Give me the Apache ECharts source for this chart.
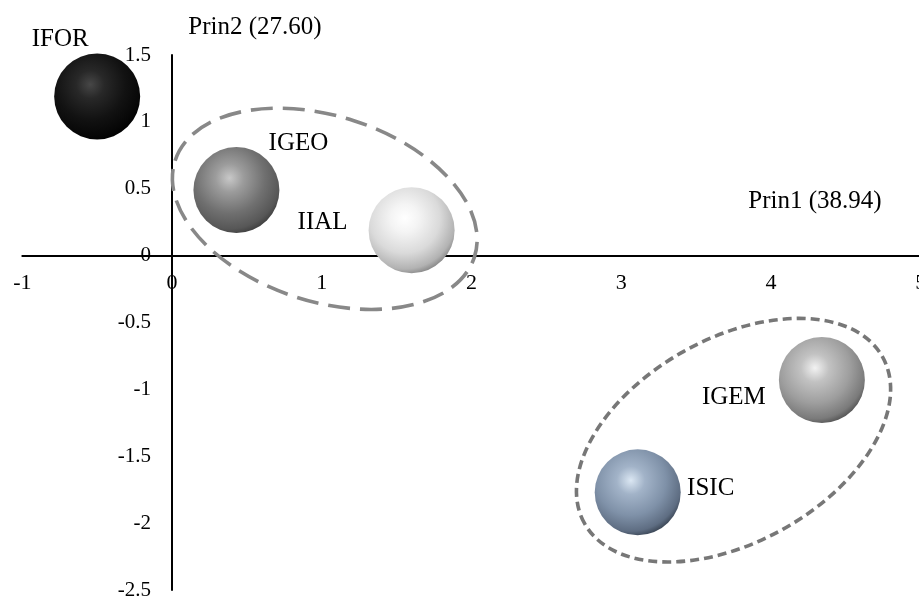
<!DOCTYPE html>
<html><head><meta charset="utf-8">
<script src="https://cdn.jsdelivr.net/npm/echarts@6/dist/echarts.min.js"></script>
<style>html,body{margin:0;padding:0;background:#fff}#c{width:919px;height:599px}</style>
</head><body><div id="c"></div>
<script>
// ---- data ----
const groups = ['IFOR', 'IGEO', 'IIAL', 'IGEM', 'ISIC'];
const prin1 = [-0.50, 0.43, 1.60, 4.34, 3.11];
const prin2 = [1.19, 0.49, 0.19, -0.93, -1.77];
const xTicks = [-1, 0, 1, 2, 3, 4, 5];
const yTicks = [-2.5, -2, -1.5, -1, -0.5, 0, 0.5, 1, 1.5];
const xAxisName = 'Prin1 (38.94)';
const yAxisName = 'Prin2 (27.60)';
// cluster ellipses (centre, semi-axes in Prin1 units, tilt in degrees)
const clusterCx = [1.02, 3.75];
const clusterCy = [0.35, -1.38];
const clusterA = [1.05, 1.14];
const clusterB = [0.62, 0.68];
const clusterTilt = [-17.8, 29.2];

// ---- styles ----
const FONT = "'Liberation Serif','Times New Roman',serif";
const sphereStops = [
  ['#474747', '#282828', '#121212', '#070707', '#000000'],
  ['#c8c8c8', '#9c9c9c', '#707070', '#575757', '#3a3a3a'],
  ['#ffffff', '#f4f4f4', '#dadada', '#b2b2b2', '#7e7e7e'],
  ['#f2f2f2', '#c2c2c2', '#9e9e9e', '#7a7a7a', '#4c4c4c'],
  ['#dbe7f3', '#a2b3c8', '#7f91a8', '#5e6d82', '#323c4a']
];
const labelOffsets = [[-37, -57], [62, -47], [-89, -8], [-88, 17.5], [73, -3.5]];
const ellipseStyles = [
  { stroke: '#888888', lineWidth: 3.6, lineDash: [22, 10] },
  { stroke: '#777777', lineWidth: 3.6, lineDash: [9, 5] }
];

function sphere(i) {
  const s = sphereStops[i];
  return {
    type: 'radial', x: 0.42, y: 0.36, r: 0.68,
    colorStops: [
      { offset: 0, color: s[0] }, { offset: 0.24, color: s[1] },
      { offset: 0.6, color: s[2] }, { offset: 0.87, color: s[3] },
      { offset: 1, color: s[4] }
    ]
  };
}

const chart = echarts.init(document.getElementById('c'), null, { renderer: 'canvas' });
const GRID = { left: 22.3, right: -1.7, top: 55, bottom: 9, containLabel: false, outerBoundsMode: 'none' };
chart.setOption({
  animation: false,
  backgroundColor: '#fff',
  grid: GRID,
  xAxis: {
    type: 'value', position: 'bottom', min: xTicks[0], max: xTicks[xTicks.length - 1], interval: 1,
    splitLine: { show: false }, axisTick: { show: false },
    axisLine: { onZero: false, lineStyle: { color: '#000', width: 2 } },
    axisLabel: { margin: 17, fontSize: 22, color: '#000', fontFamily: FONT },
    name: xAxisName, nameLocation: 'end', nameGap: -105.7,
    nameTextStyle: { fontSize: 25, color: '#000', fontFamily: FONT, align: 'center', verticalAlign: 'bottom', padding: [0, 0, 42, 0] }
  },
  yAxis: {
    type: 'value', position: 'left', min: yTicks[0], max: yTicks[yTicks.length - 1], interval: 0.5,
    splitLine: { show: false }, axisTick: { show: false },
    axisLine: { onZero: false, lineStyle: { color: '#000', width: 2 } },
    axisLabel: { margin: 21, fontSize: 21, color: '#000', fontFamily: FONT },
    name: yAxisName, nameLocation: 'end', nameGap: 15,
    nameTextStyle: { fontSize: 25, color: '#000', fontFamily: FONT, align: 'center', verticalAlign: 'bottom', padding: [0, 0, 0, 166] }
  },
  series: [
    {
      type: 'custom', z: 1, silent: true,
      data: clusterCx.map((c, i) => [c, clusterCy[i], clusterA[i], clusterB[i], clusterTilt[i]]),
      renderItem: function (params, api) {
        const p = api.coord([api.value(0), api.value(1)]);
        const ux = api.size([1, 0])[0];
        const st = ellipseStyles[params.dataIndex];
        return {
          type: 'ellipse', x: p[0], y: p[1],
          rotation: api.value(4) * Math.PI / 180,
          shape: { cx: 0, cy: 0, rx: api.value(2) * ux, ry: api.value(3) * ux },
          style: { fill: 'none', stroke: st.stroke, lineWidth: st.lineWidth, lineDash: st.lineDash }
        };
      }
    },
    {
      type: 'scatter', z: 3, symbol: 'circle', symbolSize: 86,
      emphasis: { disabled: true },
      itemStyle: { opacity: 1 },
      label: { show: true, position: 'inside', formatter: '{b}', fontSize: 25, color: '#000', fontFamily: FONT, opacity: 1, textBorderWidth: 0 },
      data: groups.map((g, i) => ({
        name: g, value: [prin1[i], prin2[i]],
        itemStyle: { color: sphere(i), opacity: 1 },
        label: { offset: labelOffsets[i] }
      }))
    }
  ]
});
// move both axes (line + labels) so that they cross at the origin
const origin = chart.convertToPixel({ gridIndex: 0 }, [0, 0]);
const rect = chart.getModel().getComponent('grid', 0).coordinateSystem.getRect();
chart.setOption({
  yAxis: { offset: -(origin[0] - rect.x) },
  xAxis: { offset: -(rect.y + rect.height - origin[1]) }
});
</script></body></html>
